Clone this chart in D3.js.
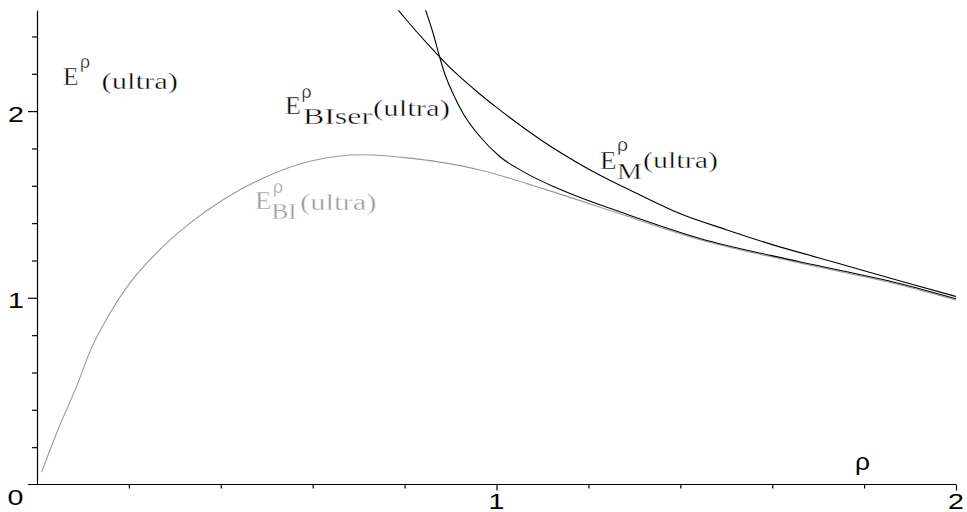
<!DOCTYPE html>
<html>
<head>
<meta charset="utf-8">
<script src="https://cdn.jsdelivr.net/npm/d3@7"></script>
<style>
  body { margin: 0; background: #fff; }
  svg { display: block; }
  .axis path, .axis line { stroke: #000; stroke-width: 1.2; }
</style>
</head>
<body>
<svg id="chart" width="967" height="512"></svg>
<script>
// values
var rhoM = [0.78, 0.80, 0.85, 0.90, 0.95, 1.00, 1.10, 1.20, 1.30, 1.40, 1.50, 1.60, 1.70, 1.80, 1.90, 2.00];
var eM   = [2.56, 2.50, 2.36, 2.23, 2.12, 2.02, 1.84, 1.69, 1.565, 1.45, 1.365, 1.285, 1.215, 1.145, 1.075, 1.007];

var rhoSer = [0.84, 0.862, 0.877, 0.887, 0.905, 0.927, 0.964, 1.007, 1.058, 1.124, 1.195, 1.267, 1.443, 1.66, 1.877, 2.00];
var eSer   = [2.58, 2.417, 2.283, 2.203, 2.096, 1.989, 1.864, 1.757, 1.676, 1.596, 1.525, 1.462, 1.318, 1.193, 1.077, 0.995];

var rhoBI = [0.01, 0.043, 0.092, 0.114, 0.159, 0.202, 0.26, 0.333, 0.405, 0.492, 0.601, 0.71, 0.812, 0.964, 1.109, 1.254, 1.443, 1.66, 1.877, 2.00];
var eBI   = [0.066, 0.277, 0.562, 0.705, 0.919, 1.079, 1.24, 1.40, 1.525, 1.641, 1.735, 1.766, 1.748, 1.685, 1.578, 1.462, 1.311, 1.186, 1.07, 0.988];

var xMajor = [0, 1, 2];
var xMinor = [0.2, 0.4, 0.6, 0.8, 1.2, 1.4, 1.6, 1.8];
var yMajor = [0, 1, 2];
var yMinor = [0.2, 0.4, 0.6, 0.8, 1.2, 1.4, 1.6, 1.8, 2.2, 2.4];

var SANS = '"Liberation Sans", Arial, sans-serif';
var SERIF = '"Liberation Serif", "Times New Roman", serif';

var svg = d3.select("#chart");

var x = d3.scaleLinear().domain([0, 2]).range([37, 956]);
var y = d3.scaleLinear().domain([0, 2.54]).range([484.5, 10.3]);

svg.append("defs").append("clipPath").attr("id", "plot")
    .append("rect")
    .attr("x", x(0)).attr("y", y(2.54))
    .attr("width", x(2) - x(0) + 4).attr("height", y(0) - y(2.54));

// axes
svg.append("g").attr("class", "axis")
    .attr("transform", "translate(" + x(0) + ",0)")
    .call(d3.axisLeft(y).tickValues(yMinor).tickSize(5).tickSizeOuter(0).tickFormat(""));
svg.append("g").attr("class", "axis")
    .attr("transform", "translate(" + x(0) + ",0)")
    .call(d3.axisLeft(y).tickValues(yMajor.slice(1)).tickSize(9).tickSizeOuter(0).tickFormat(""))
    .select(".domain").remove();

svg.append("g").attr("class", "axis")
    .attr("transform", "translate(0," + y(0) + ")")
    .call(d3.axisBottom(x).tickValues(xMinor).tickSize(4).tickSizeOuter(0).tickFormat(""))
    .select(".domain").remove();
svg.append("g").attr("class", "axis")
    .attr("transform", "translate(0," + y(0) + ")")
    .call(d3.axisBottom(x).tickValues(xMajor.slice(1)).tickSize(6).tickSizeOuter(0).tickFormat(""))
    .select(".domain").remove();
svg.append("line")
    .attr("x1", x(-0.02)).attr("x2", x(2))
    .attr("y1", y(0)).attr("y2", y(0))
    .attr("stroke", "#000").attr("stroke-width", 1.2);

// tick labels
function tickText(txt, px, py) {
    svg.append("text")
        .attr("transform", "translate(" + px + "," + py + ") scale(1.3,1)")
        .attr("text-anchor", "middle")
        .style("font-family", SANS)
        .style("font-size", "22px")
        .attr("fill", "#000")
        .text(txt);
}
tickText("0", 15.5, 505);
xMajor.slice(1).forEach(function(v) {
    tickText(String(v), x(v), 509);
});
yMajor.slice(1).forEach(function(v) {
    tickText(String(v), 16, y(v) + 10.5);
});

// curves
function pts(xs, ys) { return xs.map(function(v, i) { return [v, ys[i]]; }); }

var smooth = d3.line()
    .x(function(d) { return x(d[0]); })
    .y(function(d) { return y(d[1]); })
    .curve(d3.curveMonotoneX);

var curves = svg.append("g").attr("clip-path", "url(#plot)").attr("fill", "none");
curves.append("path").attr("d", smooth(pts(rhoBI, eBI)))
    .attr("stroke", "#999").attr("stroke-width", 1.1);
curves.append("path").attr("d", smooth(pts(rhoSer, eSer)))
    .attr("stroke", "#000").attr("stroke-width", 1.1);
curves.append("path").attr("d", smooth(pts(rhoM, eM)))
    .attr("stroke", "#000").attr("stroke-width", 1.1);

// labels: E^rho with subscript and (ultra)
function label(parts, color) {
    var g = svg.append("g").attr("fill", color);
    parts.forEach(function(p) {
        g.append("text")
            .attr("x", p.x).attr("y", p.y)
            .style("font-family", p.greek ? SANS : SERIF)
            .style("font-size", p.size + "px")
            .attr("textLength", p.w)
            .attr("lengthAdjust", "spacingAndGlyphs")
            .attr("stroke", "#fff")
            .attr("stroke-width", 0.4)
            .text(p.t);
    });
}

label([
    {t: "E", x: 63, y: 85, size: 26, w: 15.5},
    {t: "\u03c1", x: 80, y: 68, size: 18, w: 10, greek: true},
    {t: "(ultra)", x: 101.5, y: 89, size: 24, w: 76.5}
], "#000");

label([
    {t: "E", x: 285, y: 113.5, size: 25, w: 16},
    {t: "\u03c1", x: 301.5, y: 98, size: 18, w: 10, greek: true},
    {t: "BIser", x: 303, y: 123.5, size: 23, w: 69},
    {t: "(ultra)", x: 373, y: 116, size: 24, w: 77}
], "#000");

label([
    {t: "E", x: 600, y: 168.5, size: 26, w: 16.5},
    {t: "\u03c1", x: 617, y: 151, size: 18, w: 11, greek: true},
    {t: "M", x: 617, y: 178.5, size: 24, w: 25},
    {t: "(ultra)", x: 643, y: 168, size: 24, w: 75}
], "#000");

label([
    {t: "E", x: 255, y: 208.5, size: 25, w: 16.5},
    {t: "\u03c1", x: 273, y: 193, size: 18, w: 10, greek: true},
    {t: "BI", x: 271.5, y: 218.5, size: 24, w: 25},
    {t: "(ultra)", x: 300, y: 209.5, size: 24, w: 76.5}
], "#999");

// axis label rho
svg.append("text")
    .attr("x", 855).attr("y", 470)
    .style("font-family", SANS)
    .style("font-size", "24px")
    .attr("textLength", 15)
    .attr("lengthAdjust", "spacingAndGlyphs")
    .text("\u03c1");
</script>
</body>
</html>
